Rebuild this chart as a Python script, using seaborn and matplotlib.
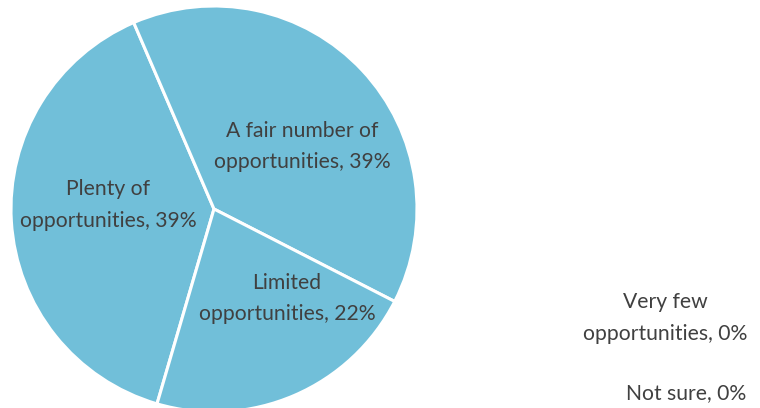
import matplotlib
matplotlib.use("Agg")
import matplotlib.pyplot as plt
import seaborn as sns

sns.set_theme(style="white")
plt.rcParams['font.family'] = ['Lato', 'DejaVu Sans']

categories = ["Plenty of\nopportunities", "A fair number of\nopportunities",
              "Limited\nopportunities", "Very few\nopportunities", "Not sure"]
values = [39, 39, 22, 0, 0]
pct_labels = ["39%", "39%", "22%", "0%", "0%"]

color = "#71BFD9"
text_color = "#404040"

W, H = 760, 408
fig = plt.figure(figsize=(W / 100, H / 100), dpi=100)
cx, cy, r = 214, 209, 203  # pixel center (from top) and radius
ax = fig.add_axes([(cx - r) / W, (H - cy - r) / H, 2 * r / W, 2 * r / H])
ax.set_aspect("equal")
ax.axis("off")

nz = [(c, v) for c, v in zip(categories, values) if v > 0]
ax.pie([v for _, v in nz], startangle=-106.3, counterclock=False, radius=1,
       colors=[color] * len(nz),
       wedgeprops=dict(edgecolor="white", linewidth=2.2),
       frame=False)
ax.set_xlim(-1, 1)
ax.set_ylim(-1, 1)

fs = 15.2
ls = 1.7
labels = [f"{c}, {p}" for c, p in zip(categories, pct_labels)]
# label positions in data units (pie radius = 1)
inside_pos = {0: (-0.52, 0.02), 1: (0.436, 0.307), 2: (0.36, -0.44)}
for i, (x, y) in inside_pos.items():
    ax.text(x, y, labels[i], ha="center", va="center", fontsize=fs,
            color=text_color, linespacing=ls)
# zero-value labels placed outside the pie (figure pixels)
fig.text(665 / W, 1 - 318 / H, labels[3], ha="center", va="center", fontsize=fs,
         color=text_color, linespacing=ls)
fig.text(686 / W, 1 - 393 / H, labels[4], ha="center", va="center", fontsize=fs,
         color=text_color)

fig.savefig("out.png", dpi=100)
